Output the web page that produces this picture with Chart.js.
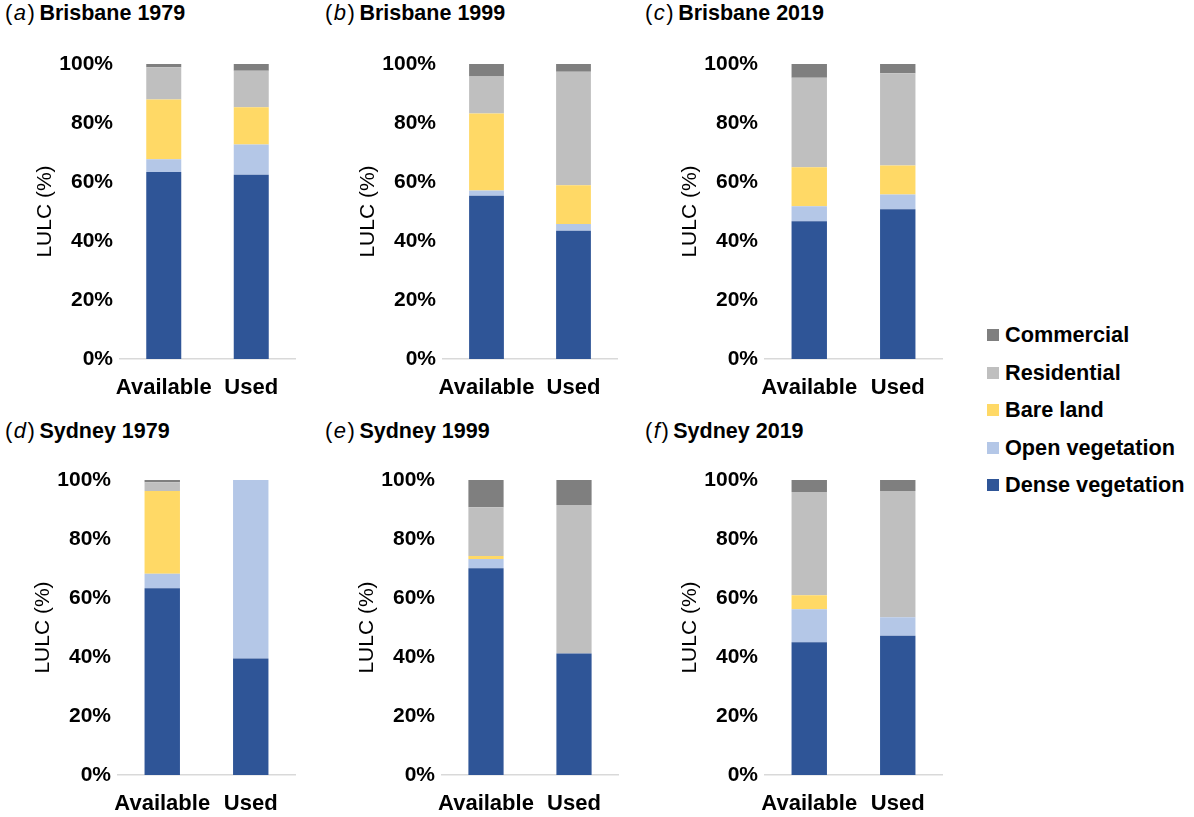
<!DOCTYPE html>
<html><head><meta charset="utf-8">
<script src="https://cdn.jsdelivr.net/npm/chart.js@4.4.0/dist/chart.umd.min.js"></script>
<style>
html,body{margin:0;padding:0;background:#fff;}
body{width:1194px;height:817px;position:relative;overflow:hidden;font-family:"Liberation Sans",Arial,sans-serif;color:#000;}
.ptitle{position:absolute;font-size:21.5px;line-height:22px;white-space:nowrap;}
.ptitle .lt{font-size:22px;letter-spacing:1.5px;margin-right:3px;}
.ptitle b{font-weight:bold;}
canvas{position:absolute;}
.legrow{position:absolute;left:987px;height:24px;font-size:21.7px;font-weight:bold;line-height:24px;white-space:nowrap;}
.legrow .sw{position:absolute;left:0;top:6px;width:12px;height:12px;}
.legrow .tx{position:absolute;left:18px;top:0;}
</style>
</head><body>
<script>
// ---- data ----
const categories = ['Available', 'Used'];
const panelLetters = ['a', 'b', 'c', 'd', 'e', 'f'];
const panelTitles = ['Brisbane 1979', 'Brisbane 1999', 'Brisbane 2019', 'Sydney 1979', 'Sydney 1999', 'Sydney 2019'];
const seriesNames = ['Dense vegetation', 'Open vegetation', 'Bare land', 'Residential', 'Commercial'];
const yTicks = [0, 20, 40, 60, 80, 100];
// per panel: [Available, Used]
const denseVegetation = [[63.4, 62.5], [55.3, 43.5], [46.7, 50.8], [63.3, 39.5], [70.1, 41.2], [45.0, 47.2]];
const openVegetation  = [[4.3, 10.2], [1.8, 2.3], [5.1, 5.0], [4.9, 60.5], [3.1, 0], [11.2, 6.3]];
const bareLand        = [[20.3, 12.6], [26.1, 13.1], [13.2, 9.8], [28.1, 0], [1.0, 0], [4.7, 0]];
const residential     = [[10.9, 12.4], [12.6, 38.5], [30.3, 31.3], [2.9, 0], [16.6, 50.3], [35.0, 42.8]];
const commercial      = [[1.1, 2.3], [4.2, 2.6], [4.7, 3.1], [0.8, 0], [9.2, 8.5], [4.1, 3.7]];

// ---- style ----
const seriesColors = ['#2F5597', '#B4C7E7', '#FFD966', '#BFBFBF', '#7F7F7F'];
const seriesData = [denseVegetation, openVegetation, bareLand, residential, commercial];
const plotAreas = [
  {l: 120, r: 295, t: 64, b: 359}, {l: 443, r: 617, t: 64, b: 359}, {l: 765, r: 942, t: 64, b: 359},
  {l: 118, r: 295, t: 480, b: 775}, {l: 442, r: 618, t: 480, b: 775}, {l: 765, r: 942, t: 480, b: 775}
];
const titlePos = [{x: 5, y: 2}, {x: 325, y: 2}, {x: 645, y: 2}, {x: 5, y: 420}, {x: 325, y: 420}, {x: 645, y: 420}];

const FONT = '"Liberation Sans", Arial, sans-serif';
Chart.defaults.font.family = FONT;
Chart.defaults.color = '#000';

panelTitles.forEach((t, i) => {
  const d = document.createElement('div');
  d.className = 'ptitle';
  d.style.left = titlePos[i].x + 'px';
  d.style.top = titlePos[i].y + 'px';
  d.innerHTML = '<span class="lt">(<i>' + panelLetters[i] + '</i>)</span><b>' + t + '</b>';
  document.body.appendChild(d);

  const pa = plotAreas[i];
  const YW = 100, TOP = 20, XH = 45, RP = 6;
  const c = document.createElement('canvas');
  const w = YW + (pa.r - pa.l) + RP, h = TOP + (pa.b - pa.t) + XH;
  c.width = w; c.height = h;
  c.style.width = w + 'px'; c.style.height = h + 'px';
  c.style.left = (pa.l - YW) + 'px';
  c.style.top = (pa.t - TOP) + 'px';
  document.body.appendChild(c);

  new Chart(c, {
    type: 'bar',
    data: {
      labels: categories,
      datasets: seriesNames.map((n, k) => ({
        label: n,
        data: seriesData[k][i],
        backgroundColor: seriesColors[k],
        borderWidth: 0,
        barPercentage: 0.4,
        categoryPercentage: 1.0
      }))
    },
    options: {
      responsive: false,
      animation: false,
      layout: {padding: {left: 0, right: RP, top: TOP, bottom: 0}},
      plugins: {legend: {display: false}, tooltip: {enabled: false}},
      scales: {
        x: {
          stacked: true,
          grid: {display: false, drawTicks: false},
          border: {display: true, color: '#D9D9D9', width: 1.5},
          ticks: {color: '#000', font: {size: 22, weight: 'bold'}, padding: 16, maxRotation: 0, autoSkip: false},
          afterFit: s => { s.height = XH; }
        },
        y: {
          stacked: true,
          min: 0, max: 100,
          grid: {display: false, drawTicks: false},
          border: {display: false},
          afterBuildTicks: s => { s.ticks = yTicks.map(v => ({value: v})); },
          ticks: {color: '#000', font: {size: 21, weight: 'bold'}, padding: 7, callback: v => v + '%'},
          title: {display: true, text: 'LULC (%)', color: '#000', font: {size: 21, weight: 'normal'}, padding: {top: 13, bottom: 0}},
          afterFit: s => { s.width = YW; }
        }
      }
    }
  });
});

// legend (top to bottom: reversed series order)
const legendCenters = [335, 372.5, 410, 447.5, 485];
seriesNames.slice().reverse().forEach((n, j) => {
  const k = seriesNames.length - 1 - j;
  const row = document.createElement('div');
  row.className = 'legrow';
  row.style.top = (legendCenters[j] - 12) + 'px';
  row.innerHTML = '<span class="sw" style="background:' + seriesColors[k] + '"></span><span class="tx">' + n + '</span>';
  document.body.appendChild(row);
});
</script>
</body></html>
